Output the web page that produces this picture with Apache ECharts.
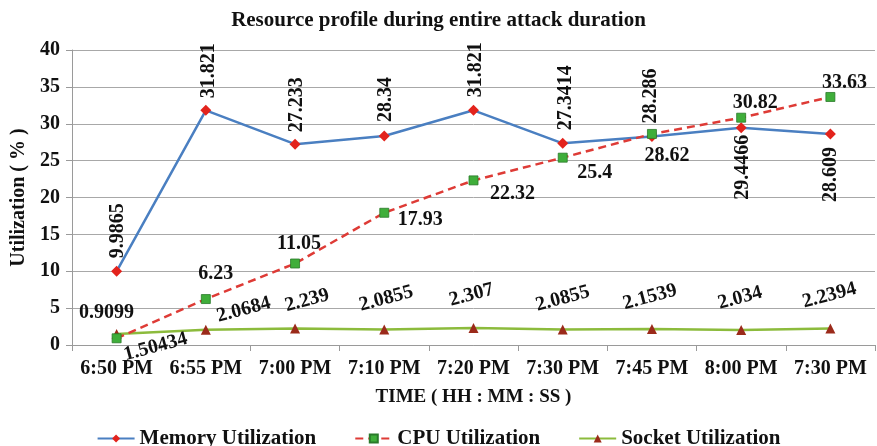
<!DOCTYPE html>
<html>
<head>
<meta charset="utf-8">
<script src="https://cdn.jsdelivr.net/npm/echarts@6/dist/echarts.min.js"></script>
<style>
html,body{margin:0;padding:0;background:#fff;}
#chart{width:877px;height:446px;}
</style>
</head>
<body>
<div id="chart"></div>
<script>
// ---- data ----
var categories = ['6:50 PM','6:55 PM','7:00 PM','7:10 PM','7:20 PM','7:30 PM','7:45 PM','8:00 PM','7:30 PM'];
var memoryValues = [9.9865, 31.821, 27.233, 28.34, 31.821, 27.3414, 28.286, 29.4466, 28.609];
var cpuValues = [0.9099, 6.23, 11.05, 17.93, 22.32, 25.4, 28.62, 30.82, 33.63];
var socketValues = [1.50434, 2.0684, 2.239, 2.0855, 2.307, 2.0855, 2.1539, 2.034, 2.2394];
var yTicks = [0, 5, 10, 15, 20, 25, 30, 35, 40];

// ---- label placement (style only) ----
var memLabelDir = ['up','up','up','up','up','up','up','down','down'];
var memLabelGap = [13, 12, 12, 14, 13, 13, 13, 7, 13];
var memLabelDx = [1, 3, 2, 2, 2, 3, -1, 2, 0];
var cpuLabelOff = [[-10,-25],[10,-25],[4,-20],[36,7],[39,13],[32,15],[15,22],[14,-15],[14,-14]];
var sockLabelOff = [[39,13],[38,-20],[12,-28],[2,-31],[-2,-33],[0,-31],[-2,-32],[-1,-32],[-1,-33]];
var SOCK_ROT = 15;

var FONT = "'Liberation Serif','Times New Roman',serif";
var LBL = {show: true, position: 'inside', fontFamily: FONT, fontWeight: 'bold', fontSize: 20, color: '#111'};

function center(p) { return [p.rect.x + p.rect.width / 2, p.rect.y + p.rect.height / 2]; }

var chart = echarts.init(document.getElementById('chart'));
chart.setOption({
  animation: false,
  backgroundColor: '#fff',
  title: {
    text: 'Resource profile during entire attack duration',
    left: 'center', top: 5,
    textStyle: {fontFamily: FONT, fontWeight: 'bold', fontSize: 21, color: '#111'}
  },
  legend: {
    top: 423, left: 'center', itemGap: 38, itemWidth: 37, itemHeight: 10,
    textStyle: {fontFamily: FONT, fontWeight: 'bold', fontSize: 21, color: '#111', padding: [0, 0, 0, 0]},
    data: ['Memory Utilization', 'CPU Utilization', 'Socket Utilization']
  },
  grid: {left: 72, right: 2, top: 50, bottom: 101, containLabel: false},
  xAxis: {
    type: 'category', data: categories, boundaryGap: true,
    name: 'TIME ( HH : MM : SS )', nameLocation: 'middle', nameGap: 43,
    nameTextStyle: {fontFamily: FONT, fontWeight: 'bold', fontSize: 19, color: '#111'},
    axisLine: {lineStyle: {color: '#9a9a9a', width: 1}},
    axisTick: {show: true, length: 6, lineStyle: {color: '#9a9a9a'}},
    axisLabel: {fontFamily: FONT, fontWeight: 'bold', fontSize: 20, color: '#111', margin: 14, interval: 0}
  },
  yAxis: {
    type: 'value', min: yTicks[0], max: yTicks[yTicks.length - 1], interval: yTicks[1] - yTicks[0],
    name: 'Utilization ( % )', nameLocation: 'middle', nameGap: 43,
    nameTextStyle: {fontFamily: FONT, fontWeight: 'bold', fontSize: 20, color: '#111'},
    axisLine: {show: true, lineStyle: {color: '#9a9a9a', width: 1}},
    axisTick: {show: true, length: 6, lineStyle: {color: '#9a9a9a'}},
    axisLabel: {fontFamily: FONT, fontWeight: 'bold', fontSize: 20, color: '#111', margin: 12},
    splitLine: {lineStyle: {color: '#a8a8a8', width: 1}}
  },
  series: [
    {
      name: 'Memory Utilization', type: 'line', data: memoryValues,
      symbol: 'diamond', symbolSize: 11,
      lineStyle: {color: '#4a7fc1', width: 2.5},
      itemStyle: {color: '#e3231c', borderWidth: 0},
      label: LBL,
      labelLayout: function (p) {
        var c = center(p), i = p.dataIndex, up = memLabelDir[i] === 'up';
        return {x: c[0] + memLabelDx[i], y: up ? c[1] - memLabelGap[i] : c[1] + memLabelGap[i],
                rotate: 90, align: up ? 'left' : 'right', verticalAlign: 'middle'};
      },
      z: 3
    },
    {
      name: 'CPU Utilization', type: 'line', data: cpuValues,
      symbol: 'rect', symbolSize: 9,
      lineStyle: {color: '#de3b36', width: 2.5, type: [8, 5]},
      itemStyle: {color: '#3fae3a', borderColor: '#2a7a2a', borderWidth: 0.8},
      label: LBL,
      labelLayout: function (p) {
        var c = center(p), o = cpuLabelOff[p.dataIndex];
        return {x: c[0] + o[0], y: c[1] + o[1], align: 'center', verticalAlign: 'middle'};
      },
      z: 4
    },
    {
      name: 'Socket Utilization', type: 'line', data: socketValues,
      symbol: 'triangle', symbolSize: 10,
      lineStyle: {color: '#8cbb3c', width: 2.5},
      itemStyle: {color: '#9b2a1a', borderWidth: 0},
      label: LBL,
      labelLayout: function (p) {
        var c = center(p), o = sockLabelOff[p.dataIndex];
        return {x: c[0] + o[0], y: c[1] + o[1], rotate: SOCK_ROT, align: 'center', verticalAlign: 'middle'};
      },
      z: 2
    }
  ]
});
</script>
</body>
</html>
